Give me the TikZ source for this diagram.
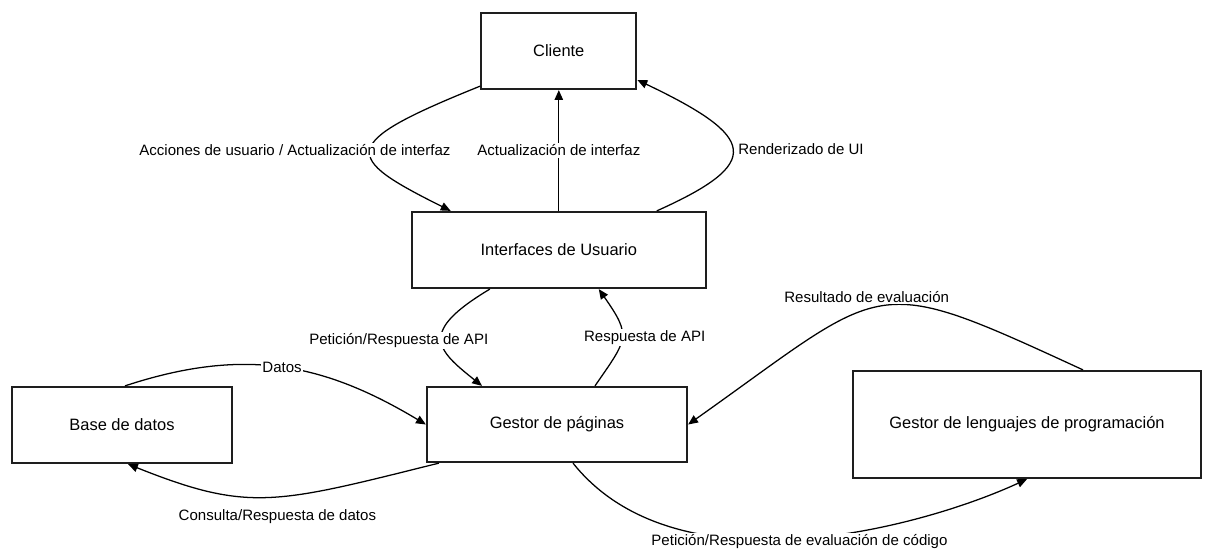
\documentclass[tikz,border=0pt]{standalone}
\usepackage{fontspec}
\setmainfont{Liberation Sans}
\usepackage{tikz}
\usetikzlibrary{arrows.meta, positioning}
\definecolor{boxline}{RGB}{30, 30, 30}
\tikzset{
  block/.style={draw=boxline, line width=1.6pt, fill=white, align=center, font=\fontsize{11.7}{14}\selectfont},
  flowline/.style={-{Triangle[length=7pt, width=6pt]}, line width=0.9pt},
  lbl/.style={fill=white, inner sep=1pt, font=\fontsize{10.7}{13}\selectfont}
}

\begin{document}
\begin{tikzpicture}
  \useasboundingbox (0,0) rectangle (30.15,-13.7);

  % Components
  \node[block, minimum width=3.875cm, minimum height=1.9cm] (cliente) at (13.97, -1.275) {Cliente};
  \node[block, minimum width=7.35cm, minimum height=1.9cm] (iface) at (13.97, -6.25) {Interfaces de Usuario};
  \node[block, minimum width=6.5cm, minimum height=1.875cm] (gestor) at (13.925, -10.6125) {Gestor de páginas};
  \node[block, minimum width=5.5cm, minimum height=1.9cm] (base) at (3.05, -10.625) {Base de datos};
  \node[block, minimum width=8.7cm, minimum height=2.675cm] (lenguajes) at (25.675, -10.6125) {Gestor de lenguajes de programación};

  % Cliente <-> Interfaces
  \draw[flowline] ([yshift=0.1cm]cliente.south west) .. controls +(-3.6,-1.45) and +(-2.7,1.35) .. ([xshift=1cm]iface.north west)
    node[lbl, pos=0.5, xshift=-1.9cm] {Acciones de usuario / Actualización de interfaz};
  \draw[flowline] (iface.north) -- (cliente.south) node[lbl, midway] {Actualización de interfaz};
  \draw[flowline] ([xshift=2.45cm]iface.north) .. controls +(2.675,1.2) and +(3.0,-1.43) .. ([yshift=-0.725cm]cliente.east)
    node[lbl, pos=0.5, anchor=west, xshift=0.1cm] {Renderizado de UI};

  % Interfaces <-> Gestor
  \draw[flowline] ([xshift=-1.725cm]iface.south) .. controls +(-1.8,-1.08) and +(-1.14,0.91) .. ([xshift=-1.875cm]gestor.north)
    node[lbl, pos=0.5, xshift=-1.075cm] {Petición/Respuesta de API};
  \draw[flowline] ([xshift=0.95cm]gestor.north) .. controls +(0.82,1.19) and +(0.83,-1.19) .. ([xshift=1cm]iface.south)
    node[lbl, pos=0.5, xshift=0.575cm] {Respuesta de API};

  % Base de datos <-> Gestor
  \draw[flowline] ([xshift=0.075cm]base.north) .. controls +(2.99,0.985) and +(-2.55,1.53) .. (gestor.west)
    node[lbl, pos=0.5] {Datos};
  \draw[flowline] ([xshift=0.325cm]gestor.south west) .. controls +(-4.1,-1.02) and +(3.03,-1.21) .. ([xshift=0.15cm]base.south)
    node[lbl, pos=0.5, xshift=0.25cm, yshift=-0.5cm] {Consulta/Respuesta de datos};

  % Gestor <-> lenguajes
  \draw[flowline] ([xshift=0.4cm]gestor.south) .. controls +(2.61,-3.27) and +(-2.645,-1.22) .. (lenguajes.south)
    node[lbl, pos=0.5, yshift=-0.075cm] {Petición/Respuesta de evaluación de código};
  \draw[flowline] ([xshift=1.4cm]lenguajes.north) .. controls +(-5.375,2.475) and +(5.05,3.575) .. (gestor.east)
    node[lbl, pos=0.5, anchor=south, xshift=-0.35cm, yshift=0.05cm] {Resultado de evaluación};
\end{tikzpicture}
\end{document}
